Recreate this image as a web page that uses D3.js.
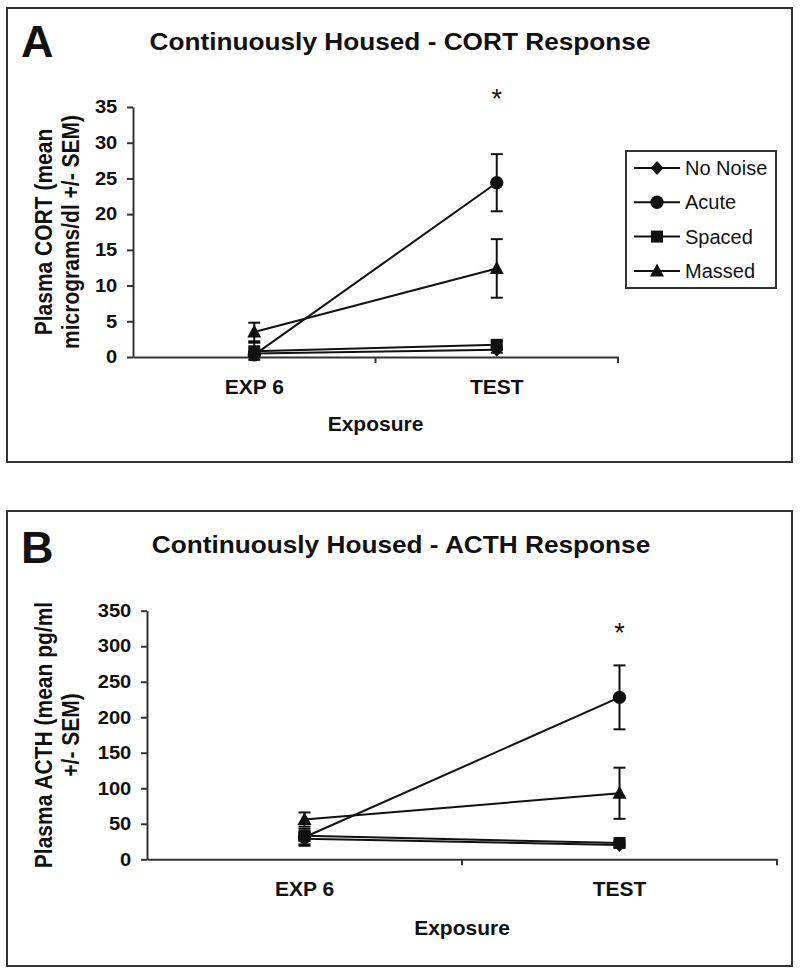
<!DOCTYPE html>
<html>
<head>
<meta charset="utf-8">
<script src="https://cdn.jsdelivr.net/npm/d3@7"></script>
<style>
  html, body { margin: 0; padding: 0; background: #fff; }
  svg { display: block; }
  text { font-family: "Liberation Sans", Arial, sans-serif; fill: #111; }
</style>
</head>
<body>
<svg id="chart" width="800" height="974"></svg>
<script>
// ---------------- DATA ----------------
const categories = ["EXP 6", "TEST"];
const seriesNames = ["No Noise", "Acute", "Spaced", "Massed"];
const seriesShapes = ["diamond", "circle", "square", "triangle"];

// Panel A: plasma CORT (micrograms/dl)
const cortMeans = [
  [0.5, 1.0],   // No Noise
  [0.3, 24.4],  // Acute
  [0.8, 1.7],   // Spaced
  [3.5, 12.4]   // Massed
];
const cortSem = [
  [0.3, 0.4],
  [0.2, 4.0],
  [1.2, 0.5],
  [1.3, 4.1]
];
const cortTicks = [0, 5, 10, 15, 20, 25, 30, 35];

// Panel B: plasma ACTH (pg/ml)
const acthMeans = [
  [29, 20],
  [31, 228],
  [33, 23],
  [56, 93]
];
const acthSem = [
  [8, 3],
  [12, 45],
  [5, 3],
  [10, 36]
];
const acthTicks = [0, 50, 100, 150, 200, 250, 300, 350];

// ---------------- DRAWING ----------------
const svg = d3.select("#chart");
const INK = "#111";
const AXIS = "#333";

function markerPath(shape) {
  if (shape === "circle") return d3.symbol(d3.symbolCircle, 140)();
  if (shape === "square") return d3.symbol(d3.symbolSquare, 144)();
  if (shape === "diamond") {
    const p = d3.path();
    p.moveTo(0, -7); p.lineTo(6.5, 0); p.lineTo(0, 7); p.lineTo(-6.5, 0); p.closePath();
    return p.toString();
  }
  // triangle
  const p = d3.path();
  p.moveTo(0, -7.5); p.lineTo(7, 5.5); p.lineTo(-7, 5.5); p.closePath();
  return p.toString();
}

function panel(cfg) {
  const g = svg.append("g");

  // frame
  g.append("rect")
    .attr("x", cfg.frame[0]).attr("y", cfg.frame[1])
    .attr("width", cfg.frame[2]).attr("height", cfg.frame[3])
    .attr("fill", "none").attr("stroke", AXIS).attr("stroke-width", 2);

  // panel letter
  g.append("text").attr("x", cfg.letterPos[0]).attr("y", cfg.letterPos[1])
    .attr("font-size", 45).attr("font-weight", "bold").text(cfg.letter);

  // title
  g.append("text")
    .attr("transform", `translate(${cfg.titlePos[0]},${cfg.titlePos[1]}) scale(1.14,1)`)
    .attr("text-anchor", "middle").attr("font-size", 23).attr("font-weight", "bold")
    .text(cfg.title);

  const x = d3.scaleBand().domain(categories).range(cfg.xRange);
  const y = d3.scaleLinear().domain([0, cfg.ticks[cfg.ticks.length - 1]]).range(cfg.yRange);

  // y axis
  const yAxis = g.append("g")
    .attr("transform", `translate(${cfg.xRange[0]},0)`)
    .call(d3.axisLeft(y).tickValues(cfg.ticks).tickSize(6).tickPadding(8).tickSizeOuter(0));
  yAxis.select(".domain").attr("stroke", AXIS).attr("stroke-width", 2);
  yAxis.selectAll(".tick line").attr("stroke", AXIS).attr("stroke-width", 2);
  yAxis.selectAll(".tick text")
    .attr("font-family", "Liberation Sans, Arial, sans-serif")
    .attr("font-size", 18).attr("font-weight", "bold").attr("fill", INK)
    .attr("transform", "scale(1.12,1)");

  // x axis (labels at band centres, ticks at band edges)
  const xAxis = g.append("g")
    .attr("transform", `translate(0,${cfg.yRange[0]})`)
    .call(d3.axisBottom(x).tickSize(0).tickPadding(22).tickSizeOuter(0));
  xAxis.select(".domain").attr("stroke", AXIS).attr("stroke-width", 2);
  xAxis.selectAll(".tick text")
    .attr("font-family", "Liberation Sans, Arial, sans-serif")
    .attr("font-size", 21).attr("font-weight", "bold").attr("fill", INK);
  const edges = categories.map(c => x(c)).concat([x.range()[1]]);
  xAxis.selectAll("line.edge").data(edges.slice(1)).join("line")
    .attr("class", "edge")
    .attr("x1", d => d).attr("x2", d => d).attr("y1", 0).attr("y2", 6)
    .attr("stroke", AXIS).attr("stroke-width", 2);

  // axis titles
  const xMid = (cfg.xRange[0] + cfg.xRange[1]) / 2;
  g.append("text").attr("x", xMid).attr("y", cfg.yRange[0] + cfg.xTitleOffset)
    .attr("text-anchor", "middle").attr("font-size", 21).attr("font-weight", "bold")
    .text("Exposure");

  const yMid = (cfg.yRange[0] + cfg.yRange[1]) / 2;
  const yt = g.append("text")
    .attr("transform", `translate(${cfg.yTitleX},${yMid}) scale(1.1,1) rotate(-90)`)
    .attr("text-anchor", "middle").attr("font-size", 21).attr("font-weight", "bold");
  cfg.yTitle.forEach((line, i) => {
    yt.append("tspan").attr("x", 0).attr("y", i * 25).text(line);
  });

  // data
  const cx = c => x(c) + x.bandwidth() / 2;
  const lineGen = d3.line().x(d => cx(d.cat)).y(d => y(d.v));

  seriesNames.forEach((name, si) => {
    const pts = categories.map((c, ci) => ({ cat: c, v: cfg.means[si][ci], e: cfg.sems[si][ci] }));
    const sg = g.append("g");
    // error bars
    pts.forEach(p => {
      const x0 = cx(p.cat);
      sg.append("line").attr("x1", x0).attr("x2", x0)
        .attr("y1", y(p.v + p.e)).attr("y2", y(p.v - p.e))
        .attr("stroke", INK).attr("stroke-width", 2);
      [p.v + p.e, p.v - p.e].forEach(v => {
        sg.append("line").attr("x1", x0 - 6).attr("x2", x0 + 6)
          .attr("y1", y(v)).attr("y2", y(v))
          .attr("stroke", INK).attr("stroke-width", 2);
      });
    });
    sg.append("path").datum(pts).attr("d", lineGen)
      .attr("fill", "none").attr("stroke", INK).attr("stroke-width", 2);
    sg.selectAll("path.mk").data(pts).join("path")
      .attr("class", "mk")
      .attr("transform", d => `translate(${cx(d.cat)},${y(d.v)})`)
      .attr("d", markerPath(seriesShapes[si]))
      .attr("fill", INK);
  });

  // significance asterisk
  g.append("text").attr("x", cx("TEST")).attr("y", cfg.starY)
    .attr("text-anchor", "middle").attr("font-size", 27).text("*");

  // legend
  if (cfg.legend) {
    const L = cfg.legend;
    const lg = g.append("g").attr("transform", `translate(${L.x},${L.y})`);
    lg.append("rect").attr("width", L.w).attr("height", L.h)
      .attr("fill", "#fff").attr("stroke", AXIS).attr("stroke-width", 2);
    seriesNames.forEach((name, i) => {
      const ry = 17 + i * 34.3;
      lg.append("line").attr("x1", 8).attr("x2", 54).attr("y1", ry).attr("y2", ry)
        .attr("stroke", INK).attr("stroke-width", 2);
      lg.append("path").attr("transform", `translate(31,${ry})`)
        .attr("d", markerPath(seriesShapes[i])).attr("fill", INK);
      lg.append("text").attr("x", 59).attr("y", ry + 7)
        .attr("font-size", 20).text(name);
    });
  }
}

panel({
  frame: [7, 8, 785, 454],
  letter: "A", letterPos: [21, 57],
  title: "Continuously Housed - CORT Response", titlePos: [400, 50],
  xRange: [133, 618], yRange: [357, 107],
  ticks: cortTicks, means: cortMeans, sems: cortSem,
  xTitleOffset: 74, yTitleX: 52,
  yTitle: ["Plasma CORT (mean", "micrograms/dl +/- SEM)"],
  starY: 108,
  legend: { x: 626, y: 151, w: 150, h: 137 }
});

panel({
  frame: [7, 511, 785, 455],
  letter: "B", letterPos: [21, 563],
  title: "Continuously Housed - ACTH Response", titlePos: [401, 553],
  xRange: [147, 777], yRange: [859.3, 610.7],
  ticks: acthTicks, means: acthMeans, sems: acthSem,
  xTitleOffset: 76, yTitleX: 52,
  yTitle: ["Plasma ACTH (mean pg/ml", "+/- SEM)"],
  starY: 642,
  legend: null
});
</script>
</body>
</html>
